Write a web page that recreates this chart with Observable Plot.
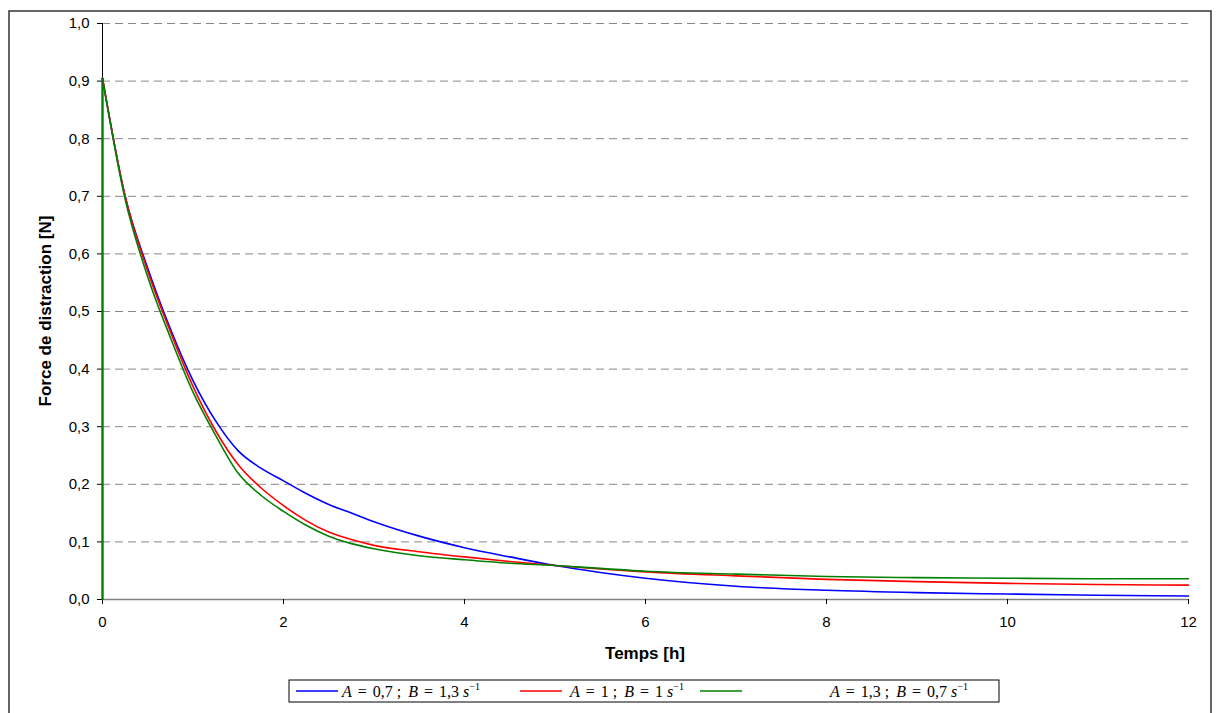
<!DOCTYPE html>
<html>
<head>
<meta charset="utf-8">
<script src="https://cdn.jsdelivr.net/npm/d3@7"></script>
<script src="https://cdn.jsdelivr.net/npm/@observablehq/plot@0.6"></script>
<style>
  html, body { margin: 0; padding: 0; background: #fff; }
  #chart { position: relative; width: 1219px; height: 713px; }
</style>
</head>
<body>
<div id="chart"></div>
<script>
// ---- data ----
const times = [0, 0, 0.25, 0.5, 0.75, 1.0, 1.25, 1.5, 1.75, 2.0, 2.25, 2.5, 2.75, 3.0, 3.5, 4.0, 4.5, 5.0, 5.5, 6, 7, 8, 9, 10, 11, 12];
const forceA07 = [0, 0.905, 0.70, 0.575, 0.47, 0.38, 0.31, 0.258, 0.228, 0.206, 0.184, 0.165, 0.150, 0.135, 0.110, 0.090, 0.074, 0.059, 0.047, 0.037, 0.023, 0.016, 0.012, 0.0095, 0.0075, 0.006];
const forceA1  = [0, 0.905, 0.70, 0.57, 0.465, 0.37, 0.293, 0.234, 0.194, 0.163, 0.137, 0.117, 0.104, 0.094, 0.083, 0.074, 0.066, 0.059, 0.053, 0.048, 0.041, 0.035, 0.031, 0.028, 0.026, 0.025];
const forceA13 = [0, 0.905, 0.695, 0.56, 0.455, 0.36, 0.285, 0.219, 0.181, 0.153, 0.129, 0.110, 0.097, 0.088, 0.076, 0.069, 0.063, 0.059, 0.054, 0.049, 0.044, 0.040, 0.038, 0.037, 0.036, 0.036];
const seriesNames = ["A07", "A1", "A13"];
const seriesColors = ["#0000ff", "#ff0000", "#008000"];
const yTicks = [0, 0.1, 0.2, 0.3, 0.4, 0.5, 0.6, 0.7, 0.8, 0.9, 1.0];
const xTicks = [0, 2, 4, 6, 8, 10, 12];
const xTitle = "Temps [h]";
const yTitle = "Force de distraction [N]";
// legend labels: A value, B value
const legendA = ["0,7", "1", "1,3"];
const legendB = ["1,3", "1", "0,7"];

const seriesValues = [forceA07, forceA1, forceA13];
const rows = [];
seriesNames.forEach((name, i) => {
  times.forEach((t, j) => rows.push({series: name, idx: j, t, f: seriesValues[i][j]}));
});

const W = 1219, H = 713;
const plot = Plot.plot({
  width: W,
  height: H,
  marginLeft: 102,
  marginRight: 31,
  marginTop: 23,
  marginBottom: 114,
  style: {fontFamily: "'Liberation Sans', Arial, sans-serif", fontSize: "15px", color: "#000", background: "#fff"},
  x: {domain: [0, 12]},
  y: {domain: [0, 1]},
  color: {domain: seriesNames, range: seriesColors},
  marks: [
    Plot.ruleY(yTicks.filter(d => d > 0), {stroke: "#888", strokeWidth: 1, strokeDasharray: "8,5", strokeOpacity: 1}),
    Plot.ruleY([0], {stroke: "#808080", strokeWidth: 1.5}),
    Plot.ruleX([0], {stroke: "#000", strokeWidth: 1}),
    Plot.axisY({ticks: yTicks, tickSize: 5, tickPadding: 8, label: null,
      tickFormat: d => d.toFixed(1).replace(".", ","), fontSize: 15}),
    Plot.axisX({ticks: xTicks, tickSize: 5, tickPadding: 12, label: null, fontSize: 15}),
    Plot.line(rows.filter(d => d.idx <= 1), {x: "t", y: "f", z: "series", stroke: "series", strokeWidth: 1.6}),
    Plot.line(rows.filter(d => d.idx >= 1), {x: "t", y: "f", z: "series", stroke: "series", strokeWidth: 1.6, curve: "monotone-x"})
  ]
});

const svg = d3.select(plot);
// outer border
svg.append("rect").attr("x", 9).attr("y", 11).attr("width", 1202).attr("height", 720)
  .attr("fill", "none").attr("stroke", "#333").attr("stroke-width", 1.5);
// axis titles
svg.append("text").attr("x", 645).attr("y", 659).attr("text-anchor", "middle")
  .attr("font-family", "'Liberation Sans', Arial, sans-serif").attr("font-weight", "bold")
  .attr("font-size", 17).text(xTitle);
svg.append("text").attr("transform", "translate(51,311) rotate(-90)").attr("text-anchor", "middle")
  .attr("font-family", "'Liberation Sans', Arial, sans-serif").attr("font-weight", "bold")
  .attr("font-size", 17).text(yTitle);

// legend
const lg = svg.append("g").attr("text-anchor", "start");
lg.append("rect").attr("x", 289).attr("y", 680).attr("width", 710).attr("height", 22)
  .attr("fill", "#fff").attr("stroke", "#000").attr("stroke-width", 1);
const lineStarts = [296, 520, 700];
const textStarts = [342, 570, 830];
seriesNames.forEach((name, i) => {
  const x0 = lineStarts[i];
  lg.append("line").attr("x1", x0).attr("x2", x0 + 42).attr("y1", 691).attr("y2", 691)
    .attr("stroke", seriesColors[i]).attr("stroke-width", 1.6);
  const t = lg.append("text").attr("x", textStarts[i]).attr("y", 697).attr("text-anchor", "start")
    .attr("font-family", "'Liberation Serif', 'Times New Roman', serif").attr("font-size", 16);
  t.append("tspan").attr("font-style", "italic").text("A");
  t.append("tspan").attr("dx", 6).text("=");
  t.append("tspan").attr("dx", 6).text(legendA[i]);
  t.append("tspan").attr("dx", 4).text(";");
  t.append("tspan").attr("dx", 7).attr("font-style", "italic").text("B");
  t.append("tspan").attr("dx", 6).text("=");
  t.append("tspan").attr("dx", 6).text(legendB[i]);
  t.append("tspan").attr("dx", 4).attr("font-style", "italic").text("s");
  t.append("tspan").attr("dy", -7).attr("font-size", 10).text("−1");
});

document.getElementById("chart").appendChild(plot);
</script>
</body>
</html>
